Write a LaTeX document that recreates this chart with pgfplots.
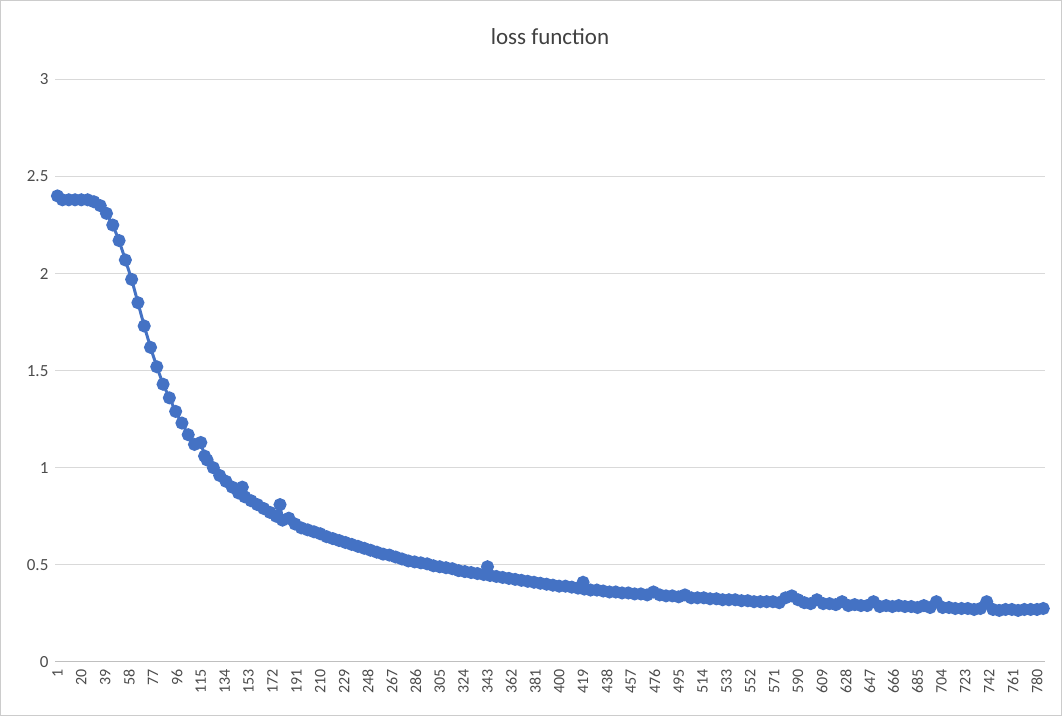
\documentclass[border=0pt]{standalone}
\usepackage{pgfplots}
\pgfplotsset{compat=1.18}
\usepackage{fontspec}
\setmainfont{Carlito}
\definecolor{ser}{RGB}{68,114,196}
\begin{document}
\begin{tikzpicture}[x=1pt,y=1pt]
\begin{axis}[
  width=495pt, height=291.5pt, scale only axis,
  xmin=-0.6, xmax=786, ymin=0, ymax=3,
  xtick={1,20,...,780},
  ytick={0,0.5,...,3},
  yticklabels={0,0.5,1,1.5,2,2.5,3},
  x tick label style={rotate=90, anchor=east, font=\fontsize{8}{9}\selectfont, color=black!70},
  y tick label style={font=\fontsize{8.5}{10}\selectfont, color=black!70},
  /pgf/number format/assume math mode=true,
  /pgf/number format/1000 sep={},
  ymajorgrids, grid style={black!15, line width=0.6pt},
  axis line style={draw=none},
  major tick length=0pt,
  title={loss function}, title style={font=\fontsize{11.5}{13}\selectfont, color=black!75, yshift=8pt},
  clip=false,
]
\draw[black!25, line width=0.6pt] (rel axis cs:0,0) -- (rel axis cs:1,0);
\addplot[color=ser, line width=1.5pt, mark=*, mark size=2.5pt, mark options={fill=ser, draw=ser}] coordinates {
(1,2.40)(5,2.38)(10,2.38)(15,2.38)(20,2.38)(25,2.38)(30,2.37)(35,2.35)(40,2.31)(45,2.25)(50,2.17)(55,2.07)(60,1.97)(65,1.85)(70,1.73)(75,1.62)(80,1.52)(85,1.43)(90,1.36)(95,1.29)(100,1.23)(105,1.17)(110,1.12)(115,1.13)(118,1.06)(120,1.04)(125,1.00)(130,0.96)(135,0.93)(140,0.90)(145,0.87)(148,0.90)(150,0.85)(155,0.83)(160,0.81)(165,0.79)(170,0.77)(175,0.75)(178,0.81)(180,0.73)(185,0.74)(190,0.71)(195,0.69)(200,0.68)(205,0.67)(210,0.66)(215,0.645)(220,0.635)(225,0.625)(230,0.615)(235,0.605)(240,0.595)(245,0.585)(250,0.575)(255,0.565)(260,0.555)(265,0.55)(270,0.54)(275,0.53)(280,0.52)(285,0.515)(290,0.51)(295,0.505)(300,0.495)(305,0.49)(310,0.485)(315,0.48)(320,0.47)(325,0.465)(330,0.46)(335,0.455)(340,0.45)(343,0.49)(345,0.445)(350,0.44)(355,0.435)(360,0.43)(365,0.425)(370,0.42)(375,0.415)(380,0.41)(385,0.405)(390,0.40)(395,0.395)(400,0.39)(405,0.39)(410,0.385)(415,0.38)(419,0.41)(420,0.375)(425,0.37)(430,0.37)(435,0.365)(440,0.36)(445,0.36)(450,0.355)(455,0.355)(460,0.35)(465,0.35)(470,0.345)(475,0.36)(480,0.345)(485,0.34)(490,0.34)(495,0.335)(500,0.345)(505,0.33)(510,0.33)(515,0.33)(520,0.325)(525,0.325)(530,0.32)(535,0.32)(540,0.32)(545,0.315)(550,0.315)(555,0.31)(560,0.31)(565,0.31)(570,0.31)(575,0.305)(580,0.33)(585,0.34)(590,0.32)(595,0.305)(600,0.30)(605,0.32)(610,0.30)(615,0.30)(620,0.295)(625,0.31)(630,0.29)(635,0.295)(640,0.29)(645,0.29)(650,0.31)(655,0.285)(660,0.29)(665,0.285)(670,0.29)(675,0.285)(680,0.285)(685,0.28)(690,0.29)(695,0.28)(700,0.31)(705,0.28)(710,0.28)(715,0.275)(720,0.275)(725,0.275)(730,0.27)(735,0.275)(740,0.31)(745,0.27)(750,0.265)(755,0.27)(760,0.27)(765,0.265)(770,0.27)(775,0.27)(780,0.27)(785,0.275)
};
\draw[black!20, line width=0.5pt] ([xshift=-27.5pt,yshift=39.5pt]rel axis cs:0,1) rectangle ([xshift=8.5pt,yshift=-27pt]rel axis cs:1,0);
\end{axis}
\end{tikzpicture}
\end{document}
